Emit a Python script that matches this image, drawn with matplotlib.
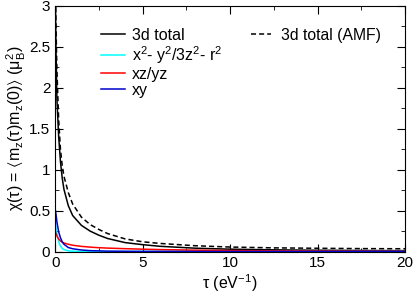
import matplotlib
matplotlib.use('Agg')
import matplotlib.pyplot as plt
from matplotlib.ticker import MultipleLocator

plt.rcParams['font.family'] = ['Liberation Sans', 'DejaVu Sans']
plt.rcParams['mathtext.default'] = 'regular'

# values
tau = [0, 0.05, 0.1, 0.2, 0.3, 0.4, 0.5, 0.75, 1.0, 1.5, 2.0, 2.5, 3, 4, 5, 6, 8, 10, 12.5, 15, 17.5, 20]
total = [3.3, 2.4, 1.85, 1.4, 1.1, 0.9, 0.76, 0.56, 0.44, 0.32, 0.25, 0.2, 0.16, 0.11, 0.085, 0.065,
         0.042, 0.03, 0.022, 0.017, 0.014, 0.012]
total_amf = [3.4, 2.7, 2.2, 1.6, 1.25, 1.05, 0.92, 0.72, 0.58, 0.42, 0.33, 0.27, 0.22, 0.155, 0.12, 0.10,
             0.072, 0.056, 0.046, 0.041, 0.037, 0.035]
eg = [0.42, 0.3, 0.22, 0.12, 0.07, 0.04, 0.025, 0.01, 0.005, 0.003, 0.002, 0.002, 0.002, 0.002, 0.002, 0.002,
      0.002, 0.002, 0.002, 0.002, 0.002, 0.002]
xzyz = [0.25, 0.22, 0.19, 0.155, 0.13, 0.115, 0.105, 0.09, 0.078, 0.064, 0.055, 0.048, 0.043, 0.036, 0.03, 0.025,
        0.018, 0.013, 0.009, 0.007, 0.005, 0.004]
xy = [0.52, 0.45, 0.36, 0.24, 0.17, 0.12, 0.09, 0.05, 0.035, 0.02, 0.012, 0.009, 0.006, 0.004, 0.003, 0.003,
      0.002, 0.002, 0.002, 0.002, 0.002, 0.002]

fig = plt.figure(figsize=(4.15, 2.95), dpi=100)
ax = fig.add_axes([0.133, 0.147, 0.843, 0.834])

l1, = ax.plot(tau, total, color='black', lw=1.1, label='3d total')
l2, = ax.plot(tau, eg, color='cyan', lw=1.1, label=r'x$^2$- y$^2$/3z$^2$- r$^2$')
l3, = ax.plot(tau, xzyz, color='red', lw=1.1, label='xz/yz')
l4, = ax.plot(tau, xy, color='#0000cc', lw=1.1, label='xy')
l5, = ax.plot(tau, total_amf, color='black', lw=1.1, ls=(0, (3.3, 2.0)), label='3d total (AMF)')

ax.set_xlim(0, 20)
ax.set_ylim(0, 3)
ax.xaxis.set_major_locator(MultipleLocator(5))
ax.xaxis.set_minor_locator(MultipleLocator(2.5))
ax.yaxis.set_major_locator(MultipleLocator(0.5))
ax.yaxis.set_minor_locator(MultipleLocator(0.25))
ax.tick_params(which='both', direction='in', top=True, right=True, labelsize=11)
ax.tick_params(which='major', length=6)
ax.tick_params(which='minor', length=3)
ax.yaxis.set_major_formatter(plt.FuncFormatter(lambda v, p: ('%g' % v)))

ax.set_xlabel(r'$\tau$ (eV$^{-1}$)', fontsize=11.5, labelpad=1)
ax.set_ylabel(r'$\chi(\tau)$ = $\langle m_z(\tau)m_z(0)\rangle$ ($\mu_B^2$)', fontsize=11.5, labelpad=1)

leg1 = ax.legend(handles=[l1, l2, l3, l4], loc='upper left', bbox_to_anchor=(0.113, 0.935),
                 frameon=False, fontsize=11.5, handlelength=1.5, handletextpad=0.45,
                 labelspacing=0.06, borderaxespad=0)
ax.add_artist(leg1)
ax.legend(handles=[l5], loc='upper left', bbox_to_anchor=(0.541, 0.935), frameon=False,
          fontsize=11.3, handlelength=1.27, handletextpad=0.64, borderaxespad=0)

fig.savefig('out.png', dpi=100)
